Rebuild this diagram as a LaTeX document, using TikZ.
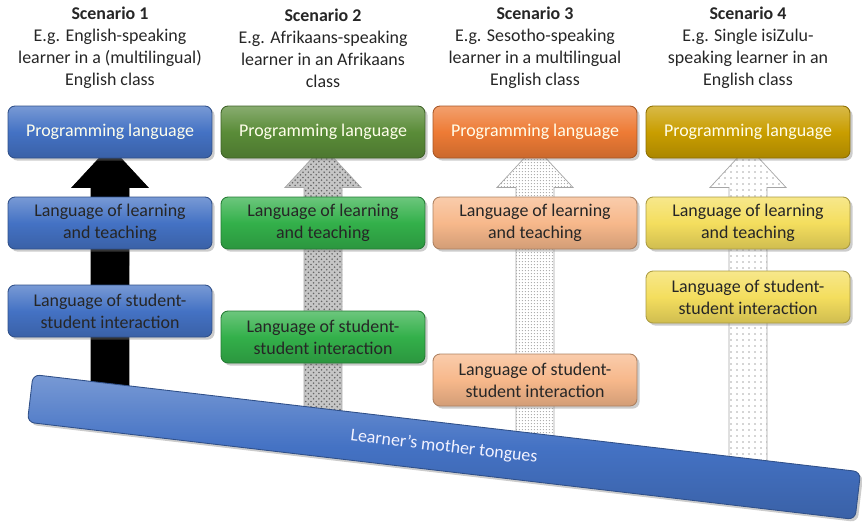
\documentclass[tikz,border=0pt]{standalone}
\usepackage{fontspec}
\setmainfont{Carlito}
\usepackage{xcolor}
\usetikzlibrary{calc, shadows, patterns, patterns.meta, backgrounds}

\definecolor{blueA}{HTML}{4472C4}
\definecolor{greenA}{HTML}{5A8C38}
\definecolor{greenB}{HTML}{33B04A}
\definecolor{orangeA}{HTML}{EE7B35}
\definecolor{orangeB}{HTML}{F7B88B}
\definecolor{goldA}{HTML}{C99E00}
\definecolor{goldB}{HTML}{F4DE5E}

% dot fills for the lighter arrows
\tikzdeclarepattern{
  name=fine dots, type=uncolored,
  bounding box={(0pt,0pt) and (1.9pt,1.9pt)},
  tile size={(1.9pt,1.9pt)},
  code={\fill (0.95pt,0.95pt) circle (0.4pt);}
}
\tikzdeclarepattern{
  name=sparse dots, type=uncolored,
  bounding box={(0pt,0pt) and (3.4pt,3.4pt)},
  tile size={(3.4pt,3.4pt)},
  code={\fill (1.7pt,1.7pt) circle (0.45pt);}
}

\tikzset{
  langbox/.style={draw=#1!70!black, line width=0.5pt, rounded corners=4pt,
    top color=#1!72!white, bottom color=#1!85!black, middle color=#1,
    minimum width=4.08cm, minimum height=1.04cm, inner sep=1pt, align=center,
    drop shadow={opacity=0.4, shadow xshift=1.5pt, shadow yshift=-1.5pt}},
  progbox/.style={langbox=#1, text=white!92!yellow},
  learnbox/.style={langbox=#1, text=black!85},
  title/.style={align=center, text=black!85},
  solidarrow/.style={fill=black, draw=black},
  checkarrow/.style={preaction={fill=gray!45}, pattern=crosshatch dots,
    pattern color=gray!80!black, draw=gray!70},
  finearrow/.style={preaction={fill=white}, pattern=fine dots,
    pattern color=gray!70, draw=gray!70},
  sparsearrow/.style={preaction={fill=white}, pattern=sparse dots,
    pattern color=gray!65, draw=gray!70}
}

\begin{document}
\begin{tikzpicture}[x=0.02cm, y=-0.02cm,
    every node/.style={font=\fontsize{10.2pt}{12.6pt}\selectfont}]
  \useasboundingbox (0,0) rectangle (862,528);

  % Scenario headings
  \node[title] (title1) at (110,48) {\textbf{Scenario 1}\\E.g. English-speaking\\learner in a (multilingual)\\English class};
  \node[title] (title2) at (323,48) {\textbf{Scenario 2}\\E.g. Afrikaans-speaking\\learner in an Afrikaans\\class};
  \node[title] (title3) at (535,48) {\textbf{Scenario 3}\\E.g. Sesotho-speaking\\learner in a multilingual\\English class};
  \node[title] (title4) at (748,48) {\textbf{Scenario 4}\\E.g. Single isiZulu-\\speaking learner in an\\English class};

  % Top row
  \node[progbox=blueA] (prog1) at (110,132) {Programming language};
  \node[progbox=greenA] (prog2) at (323,132) {Programming language};
  \node[progbox=orangeA] (prog3) at (535,132) {Programming language};
  \node[progbox=goldA] (prog4) at (748,132) {Programming language};

  % Language of learning and teaching
  \node[learnbox=blueA] (teach1) at (110,223) {Language of learning\\and teaching};
  \node[learnbox=greenB] (teach2) at (323,223) {Language of learning\\and teaching};
  \node[learnbox=orangeB] (teach3) at (535,223) {Language of learning\\and teaching};
  \node[learnbox=goldB] (teach4) at (748,223) {Language of learning\\and teaching};

  % Student-student interaction, at different heights
  \node[learnbox=blueA] (peer1) at (110,311) {Language of student-\\student interaction};
  \node[learnbox=greenB] (peer2) at (323,337) {Language of student-\\student interaction};
  \node[learnbox=orangeB] (peer3) at (535,380) {Language of student-\\student interaction};
  \node[learnbox=goldB] (peer4) at (748,297) {Language of student-\\student interaction};

  % Tilted base bar
  \node[langbox=blueA, rotate=-6.7, minimum width=16.67cm, minimum height=0.96cm,
    text=white!95!blue] (bar) at (444,447) {Learner’s mother tongues};

  % Block arrows behind the boxes
  \begin{scope}[on background layer]
    \foreach \s/\look in {1/solidarrow, 2/checkarrow, 3/finearrow, 4/sparsearrow} {
      \coordinate (tip\s) at ($(prog\s.south)+(0,-12)$);
      \coordinate (foot\s) at (intersection of bar.west--bar.east and prog\s.north--prog\s.south);
      \draw[\look] (tip\s) -- ++(38,41) -- ++(-19,0) -- ([xshift=0.38cm]foot\s)
        -- ([xshift=-0.38cm]foot\s) -- ($(tip\s)+(-19,41)$) -- ++(-19,0) -- cycle;
    }
  \end{scope}
\end{tikzpicture}
\end{document}
